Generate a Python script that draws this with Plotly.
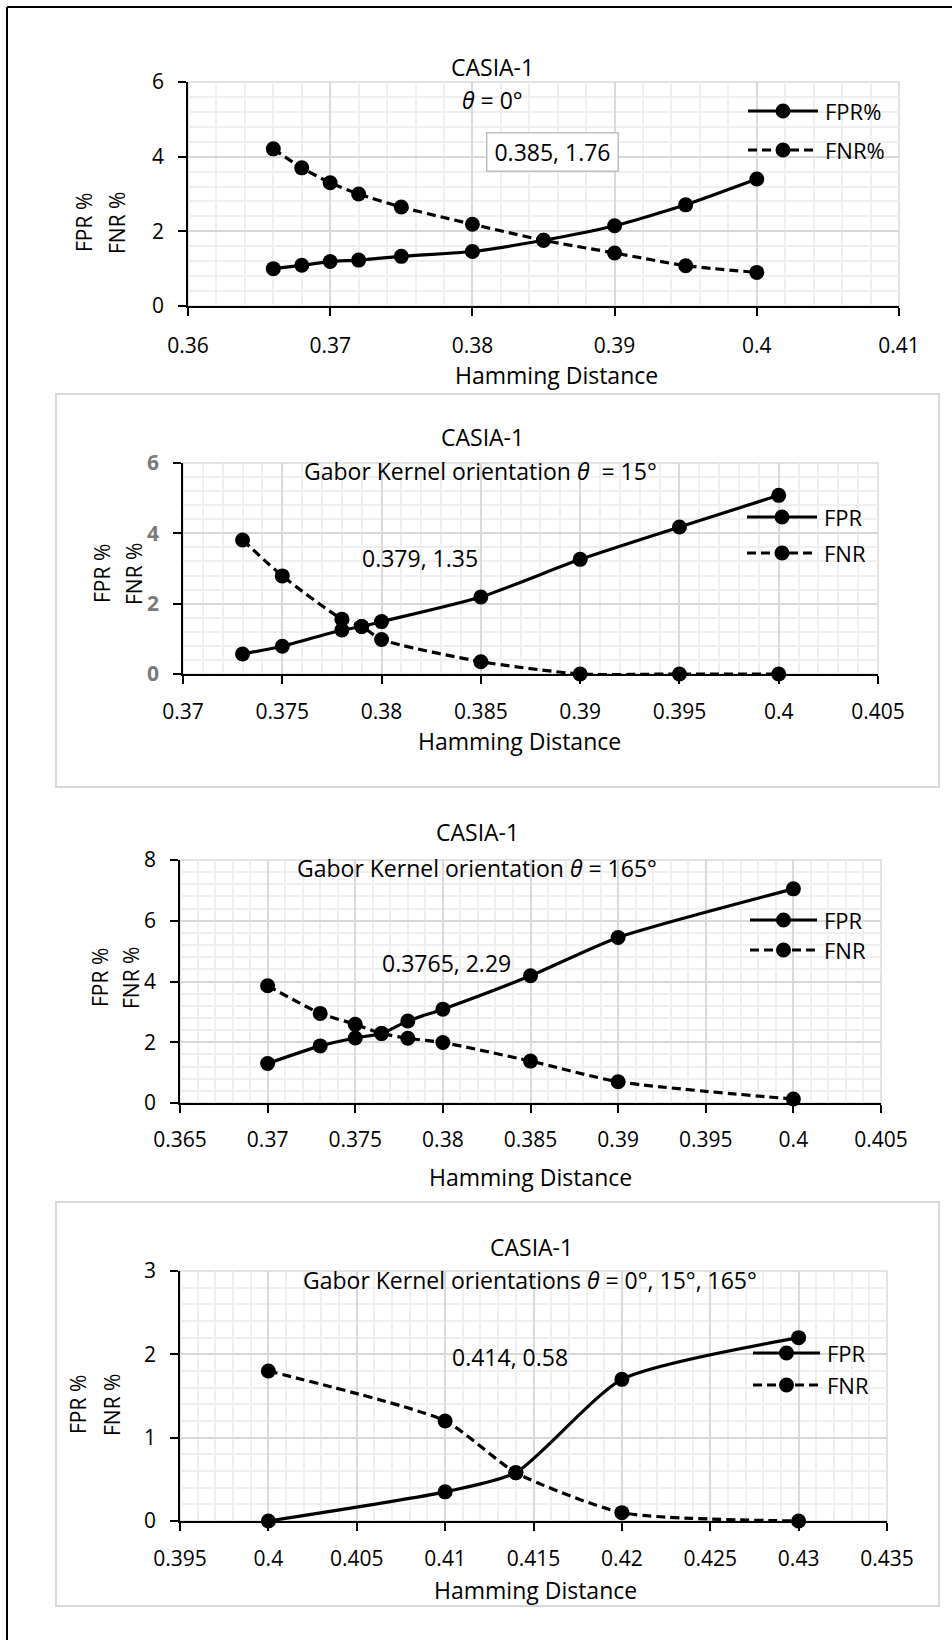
import plotly.graph_objects as go

# ---------------- data ----------------
# Plot 1: theta = 0
p1_x = [0.366, 0.368, 0.37, 0.372, 0.375, 0.38, 0.385, 0.39, 0.395, 0.4]
p1_fpr = [1.0, 1.09, 1.19, 1.23, 1.33, 1.46, 1.76, 2.15, 2.71, 3.4]
p1_fnr = [4.21, 3.7, 3.3, 3.0, 2.65, 2.19, 1.76, 1.42, 1.08, 0.9]

# Plot 2: theta = 15
p2_x = [0.373, 0.375, 0.378, 0.379, 0.38, 0.385, 0.39, 0.395, 0.4]
p2_fpr = [0.57, 0.79, 1.25, 1.35, 1.49, 2.19, 3.26, 4.18, 5.08]
p2_fnr = [3.81, 2.79, 1.56, 1.35, 0.98, 0.35, 0.0, 0.0, 0.0]

# Plot 3: theta = 165
p3_x = [0.37, 0.373, 0.375, 0.3765, 0.378, 0.38, 0.385, 0.39, 0.4]
p3_fpr = [1.3, 1.88, 2.14, 2.29, 2.7, 3.09, 4.19, 5.45, 7.05]
p3_fnr = [3.86, 2.95, 2.59, 2.29, 2.13, 1.99, 1.38, 0.7, 0.13]

# Plot 4: theta = 0, 15, 165
p4_x = [0.4, 0.41, 0.414, 0.42, 0.43]
p4_fpr = [0.0, 0.35, 0.58, 1.7, 2.2]
p4_fnr = [1.8, 1.2, 0.58, 0.1, 0.0]

titles = ["CASIA-1", "CASIA-1", "CASIA-1", "CASIA-1"]
subtitles = ["<i>θ</i> = 0°",
             "Gabor Kernel orientation <i>θ</i>  = 15°",
             "Gabor Kernel orientation <i>θ</i> = 165°",
             "Gabor Kernel orientations <i>θ</i> = 0°, 15°, 165°"]
eer_labels = ["0.385, 1.76", "0.379, 1.35", "0.3765, 2.29", "0.414, 0.58"]
legend_names = [["FPR%", "FNR%"], ["FPR", "FNR"], ["FPR", "FNR"], ["FPR", "FNR"]]
x_title = "Hamming Distance"
y_titles = ["FPR %", "FNR %"]

x_ranges = [[0.36, 0.41], [0.37, 0.405], [0.365, 0.405], [0.395, 0.435]]
x_dticks = [0.01, 0.005, 0.005, 0.005]
x_minor = [0.002, 0.001, 0.001, 0.001]
y_ranges = [[0, 6], [0, 6], [0, 8], [0, 3]]
y_dticks = [2, 2, 2, 1]
y_minor = [0.4, 0.4, 0.4, 0.2]

# ---------------- layout geometry (pixels) ----------------
W, H = 952, 1640
FONT = "Open Sans, Segoe UI, Arial, sans-serif"
TICK_SIZE = 21
TEXT_SIZE = 23
LEG_SIZE = 22
YT_SIZE = 21

def px(x):
    return x / W

def py(y):
    return 1 - y / H

# plot areas: left, right, top, bottom
areas = [(188, 899, 82, 306), (183, 878, 463, 674), (180, 881, 860, 1103), (180, 887, 1271, 1521)]
x_standoff = [12, 10, 9, 10]
title_pos = [(492, 67), (482, 437), (477, 832), (531, 1247)]
sub_pos = [(492, 100), (480, 471), (477, 868), (530, 1280)]
eer_pos = [(552, 152), (420, 558), (446, 963), (510, 1357)]
legend_pos = [((748, 818), (111, 150)), ((747, 817), (517, 553)), ((750, 817), (920, 950)), ((753, 820), (1353, 1385))]
xtitle_pos = [(556, 375), (519, 741), (530, 1177), (535, 1590)]
ytitle_pos = [((84, 117), 223), ((102, 134), 574), ((100, 131), 978), ((78, 112), 1405)]

series = [(p1_x, p1_fpr, p1_fnr), (p2_x, p2_fpr, p2_fnr), (p3_x, p3_fpr, p3_fnr), (p4_x, p4_fpr, p4_fnr)]

fig = go.Figure()
layout = dict(width=W, height=H, margin=dict(l=0, r=0, t=0, b=0, pad=0, autoexpand=False),
              paper_bgcolor="white", plot_bgcolor="white", showlegend=False,
              font=dict(family=FONT, size=TEXT_SIZE, color="black"))
annotations = []
shapes = []

DASH = "9px,5px"

for i in range(4):
    n = "" if i == 0 else str(i + 1)
    xa, ya = "x" + n, "y" + n
    l, r, t, b = areas[i]
    xs, fpr, fnr = series[i]
    fig.add_trace(go.Scatter(x=xs, y=fpr, xaxis=xa, yaxis=ya, mode="lines+markers",
                             line=dict(color="black", width=3.2, shape="spline", smoothing=0.6),
                             marker=dict(color="black", size=15), name=legend_names[i][0],
                             cliponaxis=False))
    fig.add_trace(go.Scatter(x=xs, y=fnr, xaxis=xa, yaxis=ya, mode="lines+markers",
                             line=dict(color="black", width=3.2, dash=DASH, shape="spline", smoothing=0.6),
                             marker=dict(color="black", size=15), name=legend_names[i][1],
                             cliponaxis=False))
    ytickfont = dict(family=FONT, size=TICK_SIZE, color="black")
    if i == 1:
        ytickfont = dict(family=FONT, size=TICK_SIZE, color="#7a7a7a", weight="bold")
    layout["xaxis" + n] = dict(domain=[px(l), px(r)], range=x_ranges[i], anchor=ya, automargin=False,
                               dtick=x_dticks[i], tick0=0, showline=True, linecolor="black", linewidth=1.5,
                               ticks="outside", ticklen=8, tickwidth=1.5, tickcolor="black",
                               showgrid=True, gridcolor="#D9D9D9", gridwidth=1.5, zeroline=False,
                               minor=dict(dtick=x_minor[i], tick0=0, showgrid=True, gridcolor="#EFEFEF", gridwidth=1.5),
                               tickfont=dict(family=FONT, size=TICK_SIZE, color="black"),
                               ticklabelstandoff=x_standoff[i], fixedrange=True)
    layout["yaxis" + n] = dict(domain=[py(b), py(t)], range=y_ranges[i], anchor=xa, automargin=False,
                               dtick=y_dticks[i], tick0=0, showline=True, linecolor="black", linewidth=1.5,
                               ticks="outside", ticklen=8, tickwidth=1.5, tickcolor="black",
                               showgrid=True, gridcolor="#D9D9D9", gridwidth=1.5, zeroline=False,
                               minor=dict(dtick=y_minor[i], tick0=0, showgrid=True, gridcolor="#EFEFEF", gridwidth=1.5),
                               tickfont=ytickfont, ticklabelstandoff=10, fixedrange=True)
    # plot-area border (gray, top/right visible)
    shapes.append(dict(type="rect", xref=xa + " domain", yref=ya + " domain", x0=0, x1=1, y0=0, y1=1,
                       line=dict(color="#D9D9D9", width=1.5), layer="below"))
    # titles
    tx, ty = title_pos[i]
    annotations.append(dict(text=titles[i], x=px(tx), y=py(ty), xref="paper", yref="paper",
                            showarrow=False, xanchor="center", yanchor="middle", font=dict(size=TEXT_SIZE)))
    sx, sy = sub_pos[i]
    annotations.append(dict(text=subtitles[i], x=px(sx), y=py(sy), xref="paper", yref="paper",
                            showarrow=False, xanchor="center", yanchor="middle", font=dict(size=TEXT_SIZE)))
    ex, ey = eer_pos[i]
    eer = dict(text=eer_labels[i], x=px(ex), y=py(ey), xref="paper", yref="paper",
               showarrow=False, xanchor="center", yanchor="middle", font=dict(size=TEXT_SIZE))
    if i == 0:
        eer.update(bgcolor="white", bordercolor="#BFBFBF", borderwidth=1.5, borderpad=5,
                   width=120, height=27)
    annotations.append(eer)
    hx, hy = xtitle_pos[i]
    annotations.append(dict(text=x_title, x=px(hx), y=py(hy), xref="paper", yref="paper",
                            showarrow=False, xanchor="center", yanchor="middle", font=dict(size=TEXT_SIZE)))
    (yx1, yx2), yy = ytitle_pos[i]
    for k, yx in enumerate((yx1, yx2)):
        annotations.append(dict(text=y_titles[k], x=px(yx), y=py(yy), xref="paper", yref="paper",
                                showarrow=False, xanchor="center", yanchor="middle", textangle=-90,
                                font=dict(size=YT_SIZE)))
    # legend (manual)
    (lx0, lx1), (ly1, ly2) = legend_pos[i]
    for k, ly in enumerate((ly1, ly2)):
        shapes.append(dict(type="line", xref="paper", yref="paper", x0=px(lx0), x1=px(lx1),
                           y0=py(ly), y1=py(ly),
                           line=dict(color="black", width=3.2, dash="solid" if k == 0 else DASH)))
        cx = (lx0 + lx1) / 2
        shapes.append(dict(type="circle", xref="paper", yref="paper", xsizemode="pixel", ysizemode="pixel",
                           xanchor=px(cx), yanchor=py(ly), x0=-7.5, x1=7.5, y0=-7.5, y1=7.5,
                           fillcolor="black", line=dict(color="black", width=0)))
        annotations.append(dict(text=legend_names[i][k], x=px(lx1 + 5), y=py(ly), xref="paper", yref="paper",
                                showarrow=False, xanchor="left", yanchor="middle", font=dict(size=LEG_SIZE)))

# chart boxes for plots 2 and 4
shapes.append(dict(type="rect", xref="paper", yref="paper", x0=px(56), x1=px(939), y0=py(787), y1=py(394),
                   line=dict(color="#D9D9D9", width=2), layer="below"))
shapes.append(dict(type="rect", xref="paper", yref="paper", x0=px(56), x1=px(939), y0=py(1606), y1=py(1202),
                   line=dict(color="#D9D9D9", width=2), layer="below"))
# page frame (top and left)
shapes.append(dict(type="line", xref="paper", yref="paper", x0=px(7), x1=px(952), y0=py(7), y1=py(7),
                   line=dict(color="black", width=2)))
shapes.append(dict(type="line", xref="paper", yref="paper", x0=px(7), x1=px(7), y0=py(7), y1=py(1640),
                   line=dict(color="black", width=2)))

layout["annotations"] = annotations
layout["shapes"] = shapes
fig.update_layout(**layout)

fig.write_html("out.html", config={"displayModeBar": False},
               post_script="document.body.style.margin='0';")
